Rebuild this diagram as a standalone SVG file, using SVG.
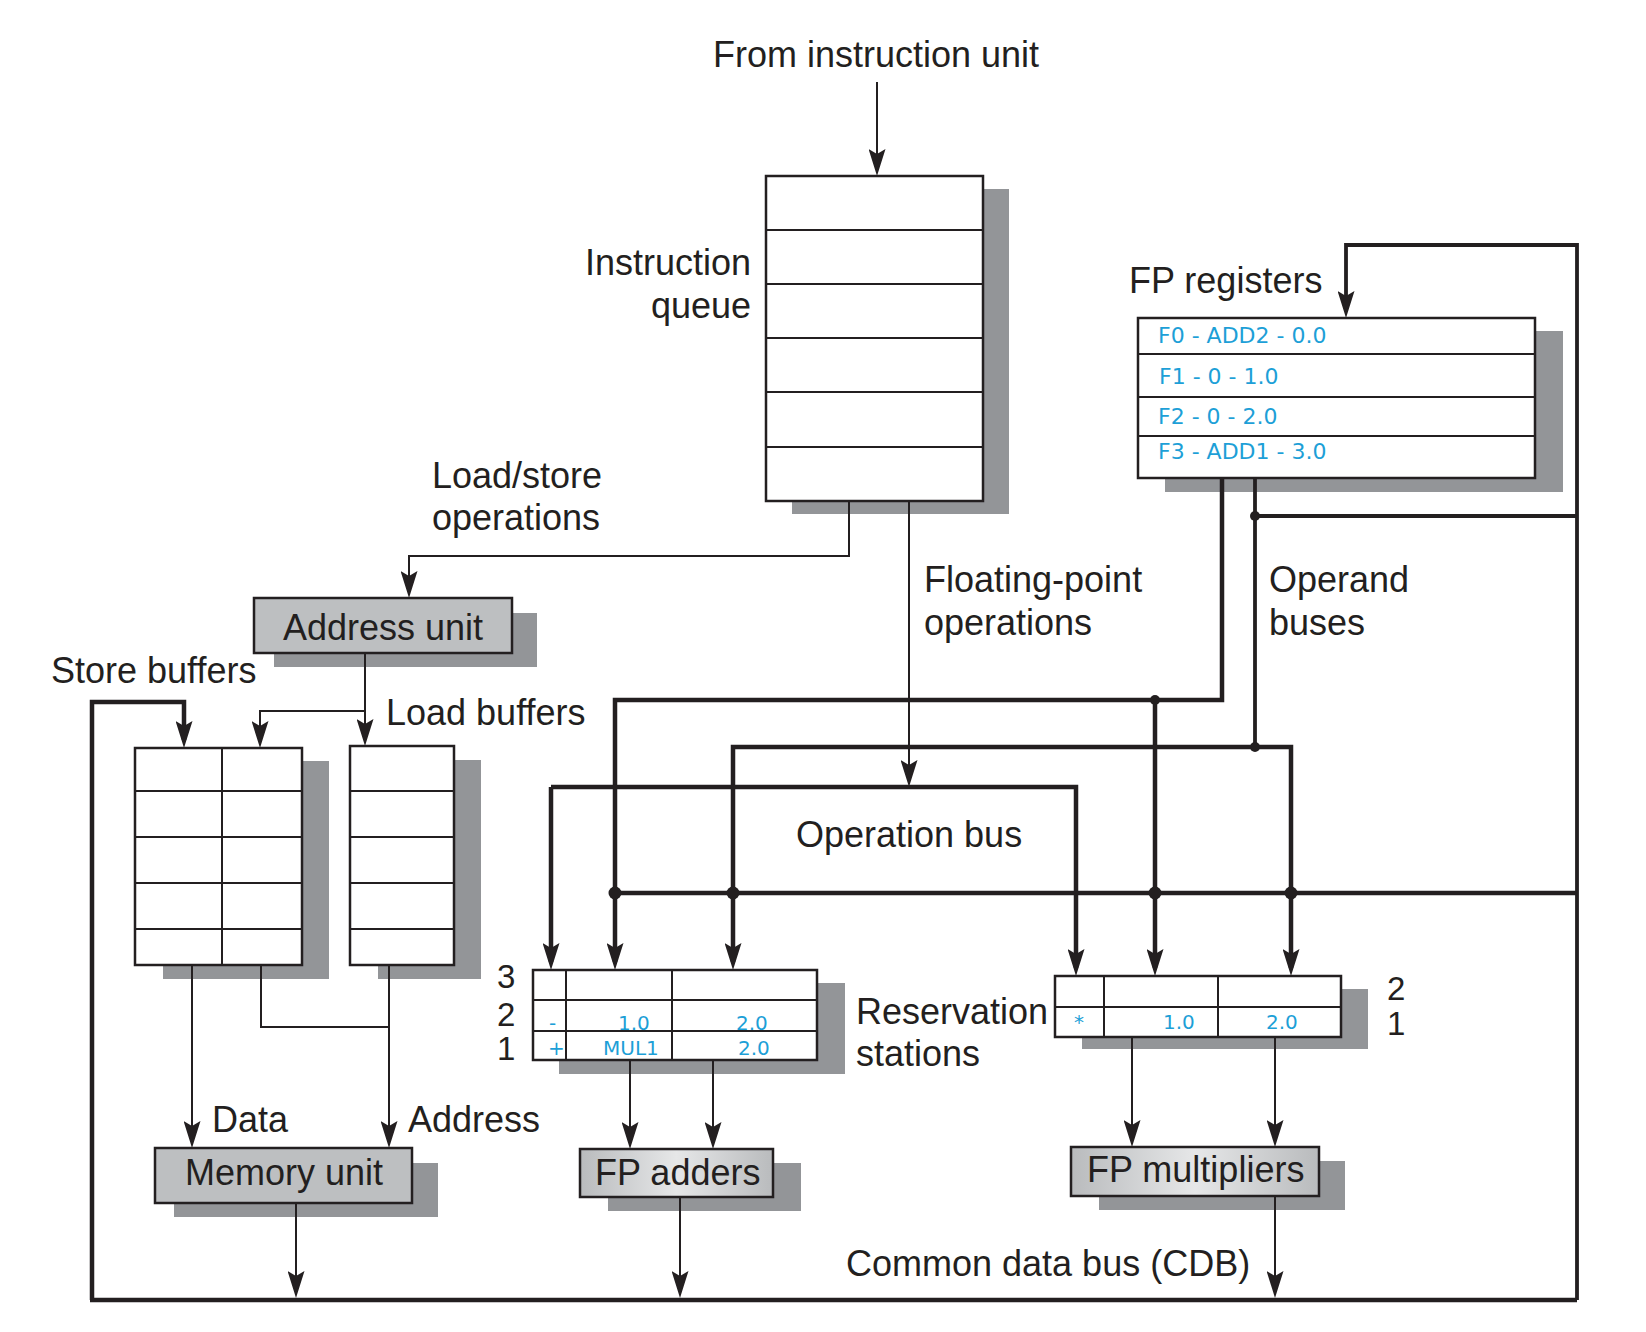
<svg xmlns="http://www.w3.org/2000/svg" width="1646" height="1332" viewBox="0 0 1646 1332">
<style>
  text{font-family:"Liberation Sans",Arial,Helvetica,sans-serif;font-size:36px;fill:#231f20}
  .rt{text-anchor:end}
  .num{font-size:33px}
  .blue{font-family:"DejaVu Sans",Verdana,sans-serif;fill:#1d9fd7}
  .reg{font-size:22px}
  .rs{font-size:20px}
  .shadow{fill:#939598;stroke:none}
  .box{fill:#fff;stroke:#231f20;stroke-width:2.5}
  .unit{fill:#bdbfc1;stroke:#231f20;stroke-width:2.5}
  .gunit{fill:url(#gr);stroke:#231f20;stroke-width:2.5}
  .cell{stroke:#231f20;stroke-width:2;fill:none}
  .thin{fill:none;stroke:#231f20;stroke-width:2}
  .thick{fill:none;stroke:#231f20;stroke-width:4.5}
  .med{fill:none;stroke:#231f20;stroke-width:3.8}
  .arr{marker-end:url(#ah)}
  .dot{fill:#231f20}
</style>
<defs>
  <marker id="ah" viewBox="0 0 27 17" refX="19" refY="8.5" markerWidth="27" markerHeight="17" markerUnits="userSpaceOnUse" orient="auto">
    <path d="M0,0 L27,8.5 L0,17 L5,8.5 z" fill="#231f20"/>
  </marker>
  <linearGradient id="gr" x1="0" y1="0" x2="1" y2="0">
    <stop offset="0" stop-color="#b9bbbd"/>
    <stop offset="0.5" stop-color="#e6e7e8"/>
    <stop offset="1" stop-color="#b9bbbd"/>
  </linearGradient>
</defs>
<rect width="1646" height="1332" fill="#fff"/>

<g id="from-label"><text x="713" y="67">From instruction unit</text></g>

<g id="instruction-queue">
  <rect class="shadow" x="792" y="189" width="217" height="325"/>
  <rect class="box" x="766" y="176" width="217" height="325"/>
  <path class="cell" d="M766,230H983M766,284H983M766,338H983M766,392H983M766,447H983"/>
  <text class="rt" x="751" y="275">Instruction</text>
  <text class="rt" x="751" y="318">queue</text>
</g>

<g id="fp-registers">
  <text x="1129" y="293">FP registers</text>
  <rect class="shadow" x="1165" y="331" width="398" height="161"/>
  <rect class="box" x="1138" y="318" width="397" height="160"/>
  <path class="cell" d="M1138,354H1535M1138,397H1535M1138,436H1535"/>
  <text class="blue reg" x="1158" y="343">F0 - ADD2 - 0.0</text>
  <text class="blue reg" x="1159" y="384">F1 - 0 - 1.0</text>
  <text class="blue reg" x="1158" y="424">F2 - 0 - 2.0</text>
  <text class="blue reg" x="1158" y="459">F3 - ADD1 - 3.0</text>
</g>

<g id="address-unit">
  <rect class="shadow" x="274" y="613" width="263" height="54"/>
  <rect class="unit" x="254" y="598" width="258" height="55"/>
  <text x="283" y="640">Address unit</text>
</g>

<g id="store-buffers">
  <text x="51" y="683">Store buffers</text>
  <rect class="shadow" x="163" y="761" width="166" height="218"/>
  <rect class="box" x="135" y="748" width="167" height="217"/>
  <path class="cell" d="M222,748V965M135,791H302M135,837H302M135,883H302M135,929H302"/>
</g>

<g id="load-buffers">
  <text x="386" y="725">Load buffers</text>
  <rect class="shadow" x="378" y="760" width="103" height="219"/>
  <rect class="box" x="350" y="746" width="104" height="219"/>
  <path class="cell" d="M350,791H454M350,837H454M350,883H454M350,929H454"/>
</g>

<g id="labels">
  <text x="432" y="488">Load/store</text>
  <text x="432" y="530">operations</text>
  <text x="924" y="592">Floating-point</text>
  <text x="924" y="635">operations</text>
  <text x="1269" y="592">Operand</text>
  <text x="1269" y="635">buses</text>
  <text x="796" y="847">Operation bus</text>
  <text x="856" y="1024">Reservation</text>
  <text x="856" y="1066">stations</text>
  <text x="212" y="1132">Data</text>
  <text x="408" y="1132">Address</text>
  <text x="846" y="1276">Common data bus (CDB)</text>
</g>

<g id="adder-rs">
  <rect class="shadow" x="559" y="983" width="286" height="91"/>
  <rect class="box" x="533" y="970" width="284" height="90"/>
  <path class="cell" d="M566,970V1060M672,970V1060M533,1000H817M533,1031H817"/>
  <text class="num" x="497" y="988">3</text>
  <text class="num" x="497" y="1026">2</text>
  <text class="num" x="497" y="1060">1</text>
  <text class="blue rs" x="549" y="1030">-</text>
  <text class="blue rs" x="618" y="1030">1.0</text>
  <text class="blue rs" x="736" y="1030">2.0</text>
  <text class="blue rs" x="548" y="1055">+</text>
  <text class="blue rs" x="603" y="1055">MUL1</text>
  <text class="blue rs" x="738" y="1055">2.0</text>
</g>

<g id="mult-rs">
  <rect class="shadow" x="1082" y="989" width="286" height="60"/>
  <rect class="box" x="1055" y="976" width="286" height="61"/>
  <path class="cell" d="M1104,976V1037M1218,976V1037M1055,1007H1341"/>
  <text class="num" x="1387" y="1000">2</text>
  <text class="num" x="1387" y="1035">1</text>
  <text class="blue rs" x="1074" y="1029">*</text>
  <text class="blue rs" x="1163" y="1029">1.0</text>
  <text class="blue rs" x="1266" y="1029">2.0</text>
</g>

<g id="memory-unit">
  <rect class="shadow" x="174" y="1163" width="264" height="54"/>
  <rect class="unit" x="155" y="1148" width="257" height="55"/>
  <text x="185" y="1185">Memory unit</text>
</g>

<g id="fp-adders">
  <rect class="shadow" x="608" y="1163" width="193" height="48"/>
  <rect class="gunit" x="580" y="1149" width="193" height="48"/>
  <text x="595" y="1185">FP adders</text>
</g>

<g id="fp-multipliers">
  <rect class="shadow" x="1099" y="1161" width="246" height="49"/>
  <rect class="gunit" x="1071" y="1147" width="248" height="49"/>
  <text x="1087" y="1182">FP multipliers</text>
</g>

<g id="connectors">
  <path class="thin arr" d="M877,82V168"/>
  <path class="thin arr" d="M849,501V556H409V590"/>
  <path class="thin arr" d="M909,501V779"/>
  <path class="thin arr" d="M365,653V738"/>
  <path class="thin arr" d="M365,711H260V740"/>
  <path class="thin arr" d="M192,965V1140"/>
  <path class="thin arr" d="M389,965V1140"/>
  <path class="thin" d="M261,965V1027H389"/>
  <path class="thin arr" d="M296,1203V1290"/>
  <path class="thin arr" d="M630,1060V1141"/>
  <path class="thin arr" d="M713,1060V1141"/>
  <path class="thin arr" d="M680,1197V1290"/>
  <path class="thin arr" d="M1132,1037V1139"/>
  <path class="thin arr" d="M1275,1037V1139"/>
  <path class="thin arr" d="M1275,1196V1290"/>

  <path class="thick" d="M90,1300H1577"/>
  <path class="med arr" d="M1577,1300V245H1346V310"/>
  <path class="thick arr" d="M92,1300V702H184V740"/>
  <path class="thick" d="M615,893H1577"/>
  <path class="med" d="M1255,516H1577"/>
  <path class="thick arr" d="M1222,478V700H615V962"/>
  <path class="thick arr" d="M1155,700V968"/>
  <path class="med" d="M1255,478V747"/>
  <path class="thick arr" d="M1255,747H733V962"/>
  <path class="thick arr" d="M1255,747H1291V968"/>
  <path class="thick arr" d="M551,787V962"/>
  <path class="thick arr" d="M551,787H1076V968"/>

  <circle class="dot" cx="615" cy="893" r="6.5"/>
  <circle class="dot" cx="733" cy="893" r="6.5"/>
  <circle class="dot" cx="1155" cy="893" r="6.5"/>
  <circle class="dot" cx="1291" cy="893" r="6.5"/>
  <circle class="dot" cx="1155" cy="700" r="5"/>
  <circle class="dot" cx="1255" cy="747" r="5"/>
  <circle class="dot" cx="1255" cy="516" r="5"/>
</g>
</svg>
